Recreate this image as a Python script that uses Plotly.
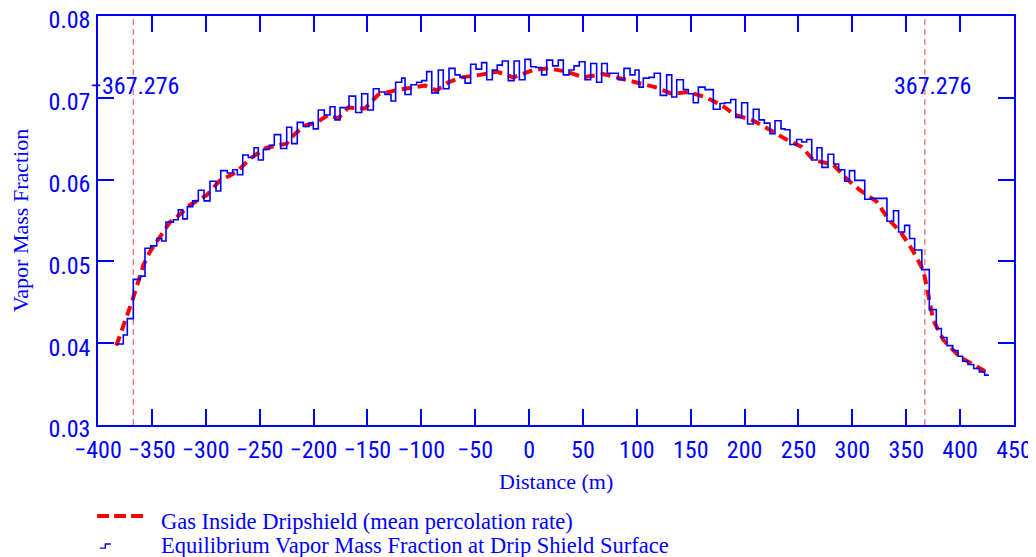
import plotly.graph_objects as go

# Equilibrium vapor mass fraction at drip shield surface (step curve, left edge of each step)
step_dist = [-383.0, -376.5, -372.8, -367.2, -361.0, -356.4, -351.1, -345.5, -340.9, -336.9,
             -330.1, -325.5, -321.4, -317.1, -312.1, -306.9, -301.6, -296.1, -290.5, -286.1,
             -280.0, -275.0, -270.7, -265.7, -260.5, -255.2, -251.2, -246.6, -241.0, -236.4,
             -230.5, -224.9, -220.3, -215.1, -209.5, -204.2, -200.2, -195.6, -190.0, -184.7,
             -180.1, -175.4, -167.1, -160.9, -155.3, -149.7, -144.5, -139.2, -133.7, -128.1,
             -123.8, -118.2, -115.1, -109.6, -104.3, -99.6, -95.0, -90.3, -84.2, -79.6,
             -74.3, -68.7, -64.1, -59.4, -54.2, -49.2, -44.0, -39.3, -34.1, -29.5,
             -24.8, -19.3, -13.9, -9.0, -3.8, 1.5, 6.4, 11.7, 16.4, 21.9,
             27.1, 31.8, 37.1, 41.7, 46.6, 51.9, 57.2, 62.7, 67.4, 72.6,
             82.8, 88.1, 93.7, 98.3, 102.0, 106.0, 111.3, 116.2, 121.8, 127.7,
             132.4, 137.0, 143.2, 147.8, 152.4, 157.1, 163.3, 171.0, 177.2, 181.8,
             187.1, 191.8, 197.3, 202.8, 208.1, 213.4, 218.3, 223.6, 228.2, 233.8,
             237.5, 242.1, 248.3, 253.0, 257.6, 262.3, 267.2, 271.8, 277.4, 282.7,
             287.3, 292.9, 297.3, 302.2, 311.5, 317.7, 332.1, 338.2, 342.9, 348.5,
             353.1, 357.8, 364.5, 371.4, 377.9, 382.6, 387.8, 393.1, 398.0, 402.3,
             407.3, 412.6, 417.9, 422.8, 426.7]
step_vmf = [0.0399, 0.0410, 0.0430, 0.0478, 0.0482, 0.0516, 0.0519, 0.0528, 0.0525, 0.0548,
            0.0551, 0.0563, 0.0552, 0.0567, 0.0574, 0.0587, 0.0574, 0.0598, 0.0586, 0.0611,
            0.0608, 0.0612, 0.0606, 0.0630, 0.0627, 0.0639, 0.0624, 0.0637, 0.0642, 0.0655,
            0.0638, 0.0664, 0.0644, 0.0670, 0.0665, 0.0669, 0.0662, 0.0685, 0.0679, 0.0689,
            0.0673, 0.0688, 0.0702, 0.0682, 0.0705, 0.0685, 0.0711, 0.0707, 0.0704, 0.0696,
            0.0719, 0.0724, 0.0704, 0.0716, 0.0719, 0.0721, 0.0732, 0.0706, 0.0734, 0.0711,
            0.0736, 0.0728, 0.0725, 0.0718, 0.0741, 0.0735, 0.0743, 0.0722, 0.0734, 0.0740,
            0.0745, 0.0721, 0.0745, 0.0722, 0.0747, 0.0738, 0.0737, 0.0728, 0.0746, 0.0739,
            0.0746, 0.0728, 0.0734, 0.0739, 0.0744, 0.0722, 0.0742, 0.0719, 0.0742, 0.0730,
            0.0722, 0.0736, 0.0728, 0.0734, 0.0713, 0.0724, 0.0725, 0.0730, 0.0703, 0.0728,
            0.0701, 0.0722, 0.0710, 0.0705, 0.0694, 0.0713, 0.0710, 0.0686, 0.0693, 0.0694,
            0.0698, 0.0676, 0.0694, 0.0668, 0.0686, 0.0673, 0.0669, 0.0656, 0.0672, 0.0662,
            0.0661, 0.0643, 0.0649, 0.0646, 0.0649, 0.0624, 0.0639, 0.0615, 0.0631, 0.0619,
            0.0612, 0.0598, 0.0611, 0.0599, 0.0576, 0.0577, 0.0549, 0.0562, 0.0536, 0.0544,
            0.0528, 0.0514, 0.0490, 0.0441, 0.0418, 0.0407, 0.0397, 0.0391, 0.0384, 0.0378,
            0.0374, 0.0369, 0.0365, 0.0361, 0.0361]

# Gas inside dripshield (mean percolation rate)
gas_dist = [-383.0, -374.9, -368.7, -364.1, -358.0, -351.7, -342.5, -333.2, -327.0, -314.6,
            -299.1, -286.8, -271.3, -258.9, -243.5, -224.9, -217.2, -207.9, -197.1, -186.3,
            -177.0, -167.7, -152.2, -139.9, -124.4, -108.9, -96.6, -85.7, -74.9, -62.5,
            -45.5, -30.0, -14.6, 3.9, 17.9, 34.9, 50.3, 68.9, 82.8, 99.9,
            116.9, 132.4, 147.8, 163.3, 178.8, 191.1, 206.6, 222.0, 237.5, 253.0,
            263.8, 282.3, 294.7, 307.1, 322.6, 333.4, 345.8, 356.6, 365.9, 369.0,
            375.1, 384.4, 399.9, 421.5, 426.0]
gas_vmf = [0.0397, 0.0426, 0.0450, 0.0469, 0.0495, 0.0512, 0.0530, 0.0548, 0.0554, 0.0569,
           0.0581, 0.0599, 0.0609, 0.0626, 0.0639, 0.0644, 0.0656, 0.0666, 0.0670, 0.0679,
           0.0675, 0.0688, 0.0687, 0.0704, 0.0709, 0.0713, 0.0715, 0.0709, 0.0719, 0.0725,
           0.0728, 0.0732, 0.0725, 0.0734, 0.0736, 0.0732, 0.0725, 0.0729, 0.0724, 0.0718,
           0.0713, 0.0705, 0.0707, 0.0701, 0.0691, 0.0679, 0.0673, 0.0662, 0.0650, 0.0640,
           0.0624, 0.0618, 0.0601, 0.0587, 0.0573, 0.0552, 0.0534, 0.0512, 0.0489, 0.0469,
           0.0428, 0.0404, 0.0383, 0.0367, 0.0362]

# drift ends marked with dashed lines
ends = [-367.276, 367.276]
end_labels = ["\u2212367.276", "367.276"]

BLUE = "#0000ff"
NARROW = "Liberation Sans Narrow, Arial Narrow, Roboto Condensed, DejaVu Sans Condensed, sans-serif"
SERIF = "Liberation Serif, Times New Roman, serif"

fig = go.Figure()

for xe in ends:
    fig.add_trace(go.Scatter(x=[xe, xe], y=[0.03, 0.08], mode="lines",
                             line=dict(color="rgb(240,100,100)", width=1.2, dash="6px,4px"),
                             hoverinfo="skip"))

fig.add_trace(go.Scatter(x=gas_dist, y=gas_vmf, mode="lines",
                         name="Gas Inside Dripshield (mean percolation rate)",
                         line=dict(color="#ff0000", width=4, dash="10px,6px")))
fig.add_trace(go.Scatter(x=step_dist, y=step_vmf, mode="lines",
                         name="Equilibrium Vapor Mass Fraction at Drip Shield Surface",
                         line=dict(color=BLUE, width=1.6, shape="hv")))

for xe, lab in zip(ends, end_labels):
    fig.add_annotation(x=xe, y=0.0715, text=lab, showarrow=False, xanchor="right",
                       yanchor="middle", xshift=48, font=dict(family=NARROW, size=24, color=BLUE))

# axis titles
fig.add_annotation(x=0.5, y=-0.137, xref="paper", yref="paper", text="Distance (m)",
                   showarrow=False, xanchor="center", yanchor="middle",
                   font=dict(family=SERIF, size=22, color=BLUE))
fig.add_annotation(x=-0.0845, y=0.5, xref="paper", yref="paper", text="Vapor Mass Fraction",
                   textangle=-90, showarrow=False, xanchor="center", yanchor="middle",
                   font=dict(family=SERIF, size=22, color=BLUE))

# legend drawn by hand (short red dashes and a small step glyph)
fig.add_shape(type="line", xref="paper", yref="paper", x0=-0.001, x1=0.054, y0=-0.2225, y1=-0.2225,
              line=dict(color="#ff0000", width=4, dash="12px,5px"))
fig.add_shape(type="path", xref="paper", yref="paper",
              path="M 0.002,-0.3010 L 0.008,-0.3010 L 0.008,-0.2910 L 0.014,-0.2910",
              line=dict(color=BLUE, width=1.4))
fig.add_annotation(x=0.067, y=-0.2364, xref="paper", yref="paper", xanchor="left", yanchor="middle",
                   text="Gas Inside Dripshield (mean percolation rate)", showarrow=False,
                   font=dict(family=SERIF, size=22.5, color=BLUE))
fig.add_annotation(x=0.067, y=-0.2950, xref="paper", yref="paper", xanchor="left", yanchor="middle",
                   text="Equilibrium Vapor Mass Fraction at Drip Shield Surface", showarrow=False,
                   font=dict(family=SERIF, size=22.5, color=BLUE))

# page body adds an 8px margin, so the figure is 8px smaller than the window
fig.update_layout(width=1028, height=549, showlegend=False,
                  margin=dict(l=90, r=22, t=8, b=132, autoexpand=False),
                  plot_bgcolor="white", paper_bgcolor="white")
fig.update_xaxes(range=[-400, 450], dtick=50, tick0=0, showgrid=False, zeroline=False,
                 showline=True, linecolor=BLUE, linewidth=1.5, mirror="ticks", automargin=False,
                 ticks="inside", ticklen=16, tickwidth=1.5, tickcolor=BLUE,
                 ticklabeloverflow="allow", ticklabelstandoff=2,
                 tickfont=dict(family=NARROW, size=24, color=BLUE))
fig.update_yaxes(range=[0.03, 0.08], dtick=0.01, tickformat=".2f", showgrid=False, zeroline=False,
                 showline=True, linecolor=BLUE, linewidth=1.5, mirror="ticks", automargin=False,
                 ticks="inside", ticklen=16, tickwidth=1.5, tickcolor=BLUE,
                 ticklabeloverflow="allow", ticklabelstandoff=1, ticklabelshift=4,
                 tickfont=dict(family=NARROW, size=24, color=BLUE))

fig.write_html("out.html")
